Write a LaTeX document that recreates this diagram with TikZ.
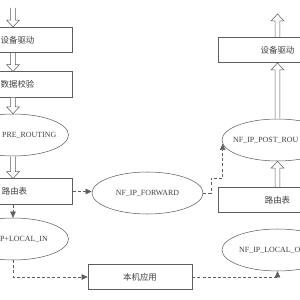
\documentclass[tikz,border=0pt]{standalone}
\usepackage{fontspec}
\setmainfont{Liberation Serif}
\newfontfamily\cjk{Noto Sans CJK SC}
\usetikzlibrary{arrows.meta,shapes.geometric,calc}
\definecolor{hookline}{HTML}{5E5E5E}
\definecolor{hooktext}{HTML}{404040}

% hollow block arrow between two points on one vertical
\newcommand\hollowarrow[2]{%
  \draw[hollow] let \p1=(#1), \p2=(#2), \p3=($(#2)!2.3mm!(#1)$) in
    (\x1-0.8mm,\y1) -- (\x1-0.8mm,\y3) -- (\x1-2.15mm,\y3) -- (\x2,\y2)
    -- (\x1+2.15mm,\y3) -- (\x1+0.8mm,\y3) -- (\x1+0.8mm,\y1);}

\begin{document}
\begin{tikzpicture}[
  x=0.3333mm, y=-0.3333mm,
  tablebox/.style={draw=hookline,line width=0.5pt,fill=white,text=hooktext,
    font=\cjk\fontsize{8pt}{9pt}\selectfont,inner sep=0pt,
    minimum width=39.5mm,minimum height=8.5mm},
  hookoval/.style={ellipse,draw=hookline,line width=0.5pt,fill=white,text=hooktext,
    font=\fontsize{7.5pt}{9pt}\selectfont,inner sep=0pt,
    minimum width=37mm,minimum height=14mm},
  hooklabel/.style={text=hooktext,font=\fontsize{7.5pt}{9pt}\selectfont,
    inner sep=0pt,anchor=west},
  hollow/.style={draw=hookline,line width=0.5pt,fill=white},
  dashflow/.style={draw=hookline,line width=0.5pt,dash pattern=on 1mm off 0.7mm,
    -{Triangle[length=2mm,width=1.8mm]}}
]
  \useasboundingbox (0,0) rectangle (300,300);
  \clip (0,0) rectangle (300,300);

  % receive side
  \coordinate (inflow) at (13,8);
  \node[tablebox] (devin) at (13,40) {\hspace*{3mm}设备驱动};
  \node[tablebox] (check) at (13,84.5) {\hspace*{3mm}数据校验};
  \node[hookoval] (pre) at (13,135) {};
  \node[hooklabel] (pretxt) at (2,135) {PRE\_ROUTING};
  \node[tablebox] (routein) at (13,191.5) {\hspace*{1mm}路由表};
  \node[hookoval] (localin) at (13,239) {};
  \node[hooklabel] (localintxt) at (0,239) {P+LOCAL\_IN};
  \node[tablebox,minimum width=34.7mm] (app) at (140,277) {本机应用};

  % forward and send side
  \node[hookoval] (fwd) at (147.5,193) {NF\_IP\_FORWARD};
  \node[tablebox] (routeout) at (277.5,200) {路由表};
  \node[hookoval] (post) at (277.5,140) {};
  \node[hooklabel] (posttxt) at (233,140) {NF\_IP\_POST\_ROU};
  \node[tablebox] (devout) at (277.5,50) {设备驱动};
  \coordinate (outflow) at (277.5,14);
  \node[hookoval] (localout) at (277.5,250) {};
  \node[hooklabel] (localouttxt) at (239,250) {NF\_IP\_LOCAL\_O};
  \coordinate (fwdbend) at (211,178);

  \hollowarrow{inflow}{devin.north}
  \hollowarrow{devin.south}{check.north}
  \hollowarrow{check.south}{pre.north}
  \hollowarrow{pre.south}{routein.north}
  \hollowarrow{routeout.north}{post.south}
  \hollowarrow{post.north}{devout.south}
  \hollowarrow{devout.north}{outflow}

  \draw[dashflow] (routein.east) -- (routein.east -| fwd.west);
  \draw[dashflow] (routein) -- (localin);
  \draw[dashflow] (localin.south) |- (app.west);
  \draw[dashflow] (app.east) -| (localout.south);
  \draw[dashflow] (fwd.east) -| (fwdbend) -| (post.184);
\end{tikzpicture}
\end{document}
